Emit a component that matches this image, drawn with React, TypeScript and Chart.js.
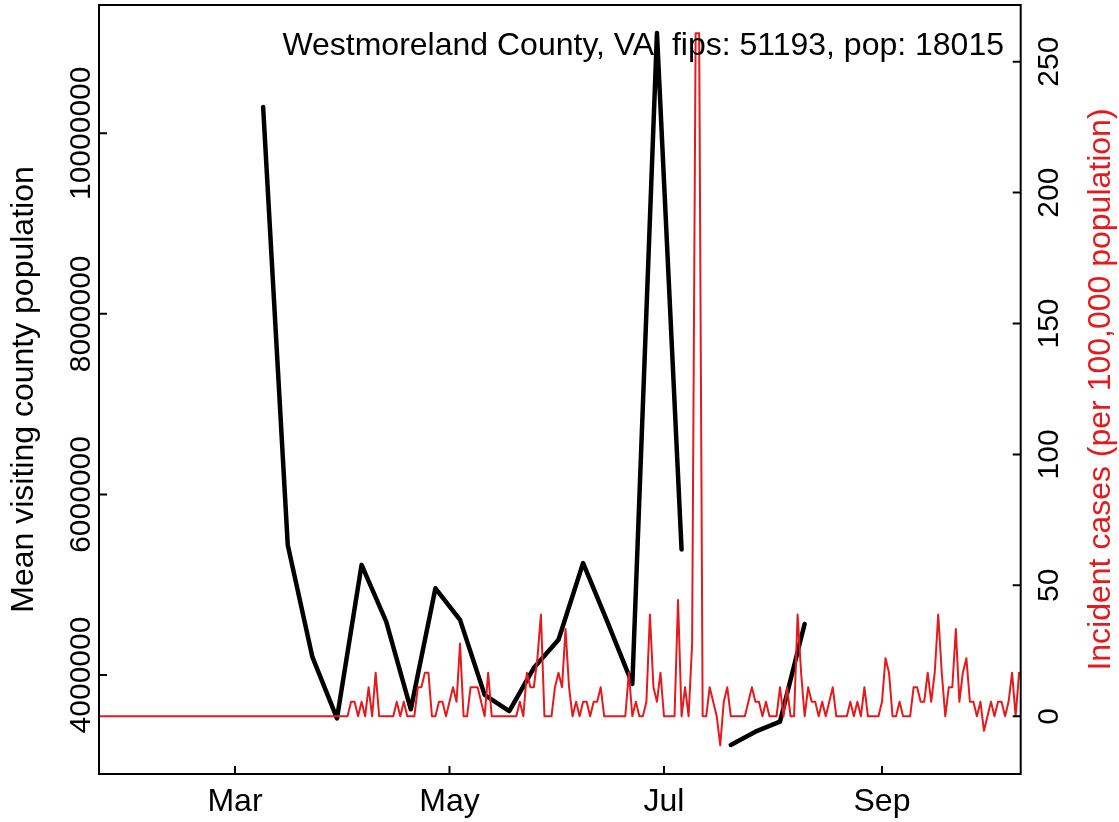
import React, { useEffect, useRef } from 'react';
import { Chart, registerables } from 'chart.js';

Chart.register(...registerables);

// ---- data (x = days since 1 March 2020) ----
const population = 18015;
const monthTicks = [0, 61, 122, 184];
const monthLabels = ['Mar', 'May', 'Jul', 'Sep'];
const visitTicks = [4000000, 6000000, 8000000, 10000000];
const caseTicks = [0, 50, 100, 150, 200, 250];

const visitDays = [8, 15, 22, 29, 36, 43, 50, 57, 64, 71, 78, 85, 92, 99, 106, 113, 120, 127, 134, 141, 148, 155, 162];
const visitValues = [
  10290000, 5440000, 4200000, 3520000, 5220000, 4590000, 3620000, 4960000, 4610000, 3780000,
  3600000, 4080000, 4390000, 5240000, 4580000, 3900000, 11110000, 5390000, null, 3225000,
  3372000, 3483000, 4565000,
];

// daily new cases, first entry = day -39 (21 Jan)
const caseStartDay = -39;
const dailyCases = [
  0, 0, 0, 0, 0, 0, 0, 0, 0, 0,
  0, 0, 0, 0, 0, 0, 0, 0, 0, 0,
  0, 0, 0, 0, 0, 0, 0, 0, 0, 0,
  0, 0, 0, 0, 0, 0, 0, 0, 0, 0,
  0, 0, 0, 0, 0, 0, 0, 0, 0, 0,
  0, 0, 0, 0, 0, 0, 0, 0, 0, 0,
  0, 0, 0, 0, 0, 0, 0, 0, 0, 0, 0,
  0, 1, 1, 0, 1, 0, 2, 0, 3, 0,
  0, 0, 0, 0, 1, 0, 1, 0, 0, 0,
  2, 2, 3, 3, 0, 0, 1, 1, 0, 1,
  2, 1, 5, 0, 0, 2, 2, 2, 1, 0,
  3, 0, 0, 0, 0, 0, 0, 0, 0, 1,
  0, 3, 2, 2, 4, 7, 0, 0, 0, 2,
  3, 2, 6, 2, 0, 1, 0, 1, 1, 0,
  1, 1, 2, 0, 0, 0, 0, 0, 0, 0,
  3, 0, 1, 0, 0, 1, 7, 2, 1, 3,
  0, 0, 0, 0, 8, 0, 2, 0, 5, 47,
  47, 0, 0, 2, 1, 0, -2, 1, 2, 0,
  0, 0, 0, 0, 1, 2, 1, 1, 0, 1,
  0, 0, 0, 2, 0, 2, 0, 0, 7, 3,
  0, 2, 1, 1, 0, 1, 0, 1, 2, 0,
  0, 0, 0, 1, 0, 1, 0, 2, 0, 0,
  0, 0, 1, 4, 3, 0, 0, 1, 0, 0,
  0, 2, 2, 1, 1, 3, 1, 3, 7, 3,
  0, 2, 2, 6, 1, 3, 4, 1, 1, 0,
  1, -1, 0, 1, 0, 1, 1, 0, 1, 3,
  0, 3, 3,
];

const titleText = 'Westmoreland County, VA, fips: 51193, pop: 18015';
const leftTitle = 'Mean visiting county population';
const rightTitle = 'Incident cases (per 100,000 population)';

const RED = '#E41A1C';
const FONT = '"Liberation Sans", Arial, Helvetica, sans-serif';

const rAxes = {
  id: 'rAxes',
  afterDatasetsDraw(chart: any) {
    const { ctx, chartArea: a, scales } = chart;
    const x = scales.x;
    const yl = scales.y;
    const yr = scales.y1;
    ctx.save();
    ctx.strokeStyle = '#000';
    ctx.lineWidth = 2;
    ctx.lineCap = 'butt';
    ctx.strokeRect(a.left, a.top, a.right - a.left, a.bottom - a.top);
    const tl = 8;
    ctx.beginPath();
    monthTicks.forEach((d) => {
      const px = x.getPixelForValue(d);
      ctx.moveTo(px, a.bottom);
      ctx.lineTo(px, a.bottom - tl);
    });
    visitTicks.forEach((v) => {
      const py = yl.getPixelForValue(v);
      ctx.moveTo(a.left, py);
      ctx.lineTo(a.left + tl, py);
    });
    caseTicks.forEach((v) => {
      const py = yr.getPixelForValue(v);
      ctx.moveTo(a.right, py);
      ctx.lineTo(a.right - tl, py);
    });
    ctx.stroke();

    ctx.fillStyle = '#000';
    ctx.textBaseline = 'alphabetic';

    const vert = (text: string, cx: number, cy: number, color: string) => {
      ctx.save();
      ctx.translate(cx, cy);
      ctx.rotate(-Math.PI / 2);
      ctx.fillStyle = color;
      ctx.textAlign = 'center';
      ctx.fillText(text, 0, 0);
      ctx.restore();
    };

    ctx.font = `30px ${FONT}`;
    visitTicks.forEach((v) => vert(String(v), a.left - 9, yl.getPixelForValue(v), '#000'));
    caseTicks.forEach((v) => vert(String(v), a.right + 37, yr.getPixelForValue(v), '#000'));

    ctx.font = `32px ${FONT}`;
    ctx.textAlign = 'center';
    monthTicks.forEach((d, i) => ctx.fillText(monthLabels[i], x.getPixelForValue(d), 811));

    const midY = (a.top + a.bottom) / 2;
    vert(leftTitle, 33, midY, '#000');
    vert(rightTitle, 1110, midY, RED);

    ctx.fillStyle = '#000';
    ctx.textAlign = 'right';
    ctx.fillText(titleText, 1004, 55);
    ctx.restore();
  },
};

export default function App() {
  const ref = useRef<HTMLCanvasElement | null>(null);
  useEffect(() => {
    if (!ref.current) return;
    const caseData = dailyCases.map((c, i) => ({ x: caseStartDay + i, y: (c * 100000) / population }));
    const visitData = visitDays.map((d, i) => ({ x: d, y: visitValues[i] }));
    const chart = new Chart(ref.current, {
      type: 'line',
      data: {
        datasets: [
          {
            label: 'Incident cases',
            data: caseData as any,
            yAxisID: 'y1',
            borderColor: RED,
            backgroundColor: RED,
            borderWidth: 2,
            pointRadius: 0,
            tension: 0,
            borderJoinStyle: 'round',
            order: 0,
          },
          {
            label: 'Mean visiting county population',
            data: visitData as any,
            yAxisID: 'y',
            borderColor: '#000',
            backgroundColor: '#000',
            borderWidth: 4.5,
            pointRadius: 0,
            tension: 0,
            spanGaps: false,
            borderCapStyle: 'round',
            borderJoinStyle: 'round',
            order: 1,
          },
        ],
      },
      options: {
        responsive: false,
        animation: false,
        devicePixelRatio: 1,
        events: [],
        layout: { padding: { left: 99, right: 98.3, top: 5, bottom: 48 } },
        plugins: { legend: { display: false }, tooltip: { enabled: false }, title: { display: false } },
        scales: {
          x: { type: 'linear', display: false, min: -38.68, max: 223.45 },
          y: { type: 'linear', display: false, min: 2903400, max: 11421000 },
          y1: { type: 'linear', display: false, position: 'right', min: -22.04, max: 271.65 },
        },
      },
      plugins: [rAxes],
    });
    return () => chart.destroy();
  }, []);
  return (
    <div style={{ position: 'absolute', left: 0, top: 0, width: 1119, height: 822, background: '#fff' }}>
      <canvas ref={ref} width={1119} height={822} style={{ display: 'block' }} />
    </div>
  );
}
